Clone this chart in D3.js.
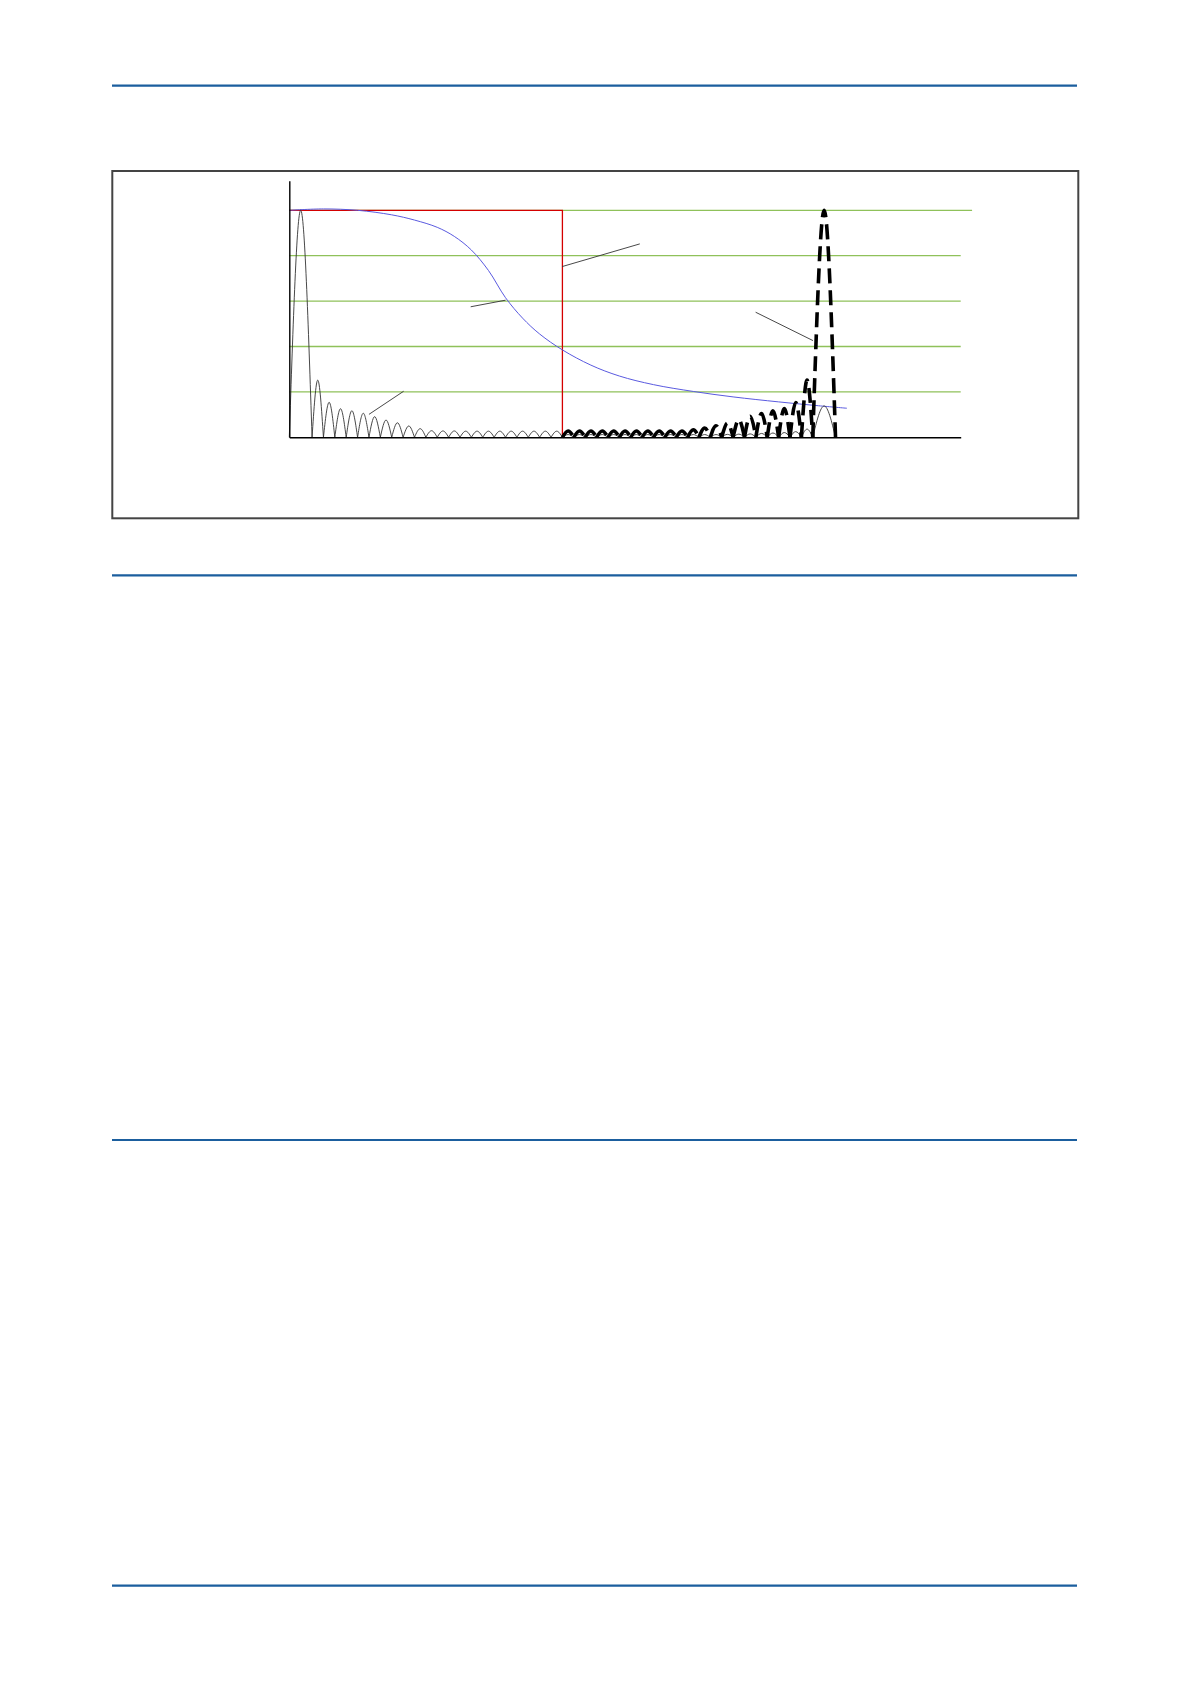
<!DOCTYPE html>
<html><head><meta charset="utf-8">
<script src="https://cdn.jsdelivr.net/npm/d3@7"></script>
<style>html,body{margin:0;padding:0;background:#fff}</style>
</head><body><svg id="c" width="1191" height="1684"></svg>
<script>
// ---- data (x in frequency bins, y as relative gain) ----
const gridLevels = [0.2, 0.4, 0.6, 0.8, 1.0];
const idealCutoff = 23;          // brick-wall filter edge (Nyquist bin)
const idealGain = 1.0;
const filterK    = [-1, 2, 5, 8, 10, 12, 13.5, 15, 16.5, 18, 19.5, 21, 23, 25.5, 28, 31, 34.5, 38, 42, 45.5, 48];
const filterGain = [1.0, 1.006, 1.0, 0.98, 0.957, 0.925, 0.885, 0.825, 0.735, 0.615, 0.525, 0.455, 0.385, 0.318, 0.27, 0.232, 0.202, 0.178, 0.156, 0.139, 0.128];
// main lobes: [centre bin, peak gain]
const responseMainLobes = [[0, 1.0], [46, 0.138]];
const aliasMainLobes    = [[46, 1.0]];
// side lobes of the filtered response, one per bin starting at bin 1
const responseSideLobes = [0.252, 0.154, 0.126, 0.117, 0.106, 0.091, 0.076, 0.064, 0.050, 0.038, 0.029,
  0.028, 0.028, 0.027, 0.027, 0.027, 0.027, 0.027, 0.027, 0.027, 0.027, 0.027,
  0.012, 0.012, 0.012, 0.012, 0.012, 0.012, 0.012, 0.012, 0.012, 0.012, 0.012, 0.012, 0.012, 0.012,
  0.013, 0.014, 0.015, 0.017, 0.019, 0.021, 0.025, 0.036];
const responseSideStart = 1;
// side lobes of the alias (image) response, starting at the cutoff bin
const aliasSideLobes = [0.028, 0.028, 0.028, 0.028, 0.028, 0.028, 0.028, 0.028, 0.028, 0.028, 0.028,
  0.033, 0.041, 0.051, 0.063, 0.078, 0.093, 0.105, 0.117, 0.127, 0.153, 0.252];
const aliasSideStart = 23;
// callout leader lines: [[bin, gain], [bin, gain]]
const leaders = [
  [[22.97, 0.752], [29.8, 0.852]],
  [[14.94, 0.575], [18.0, 0.604]],
  [[6.0, 0.101], [9.05, 0.203]],
  [[39.98, 0.551], [45.02, 0.426]]
];
const xDomain = [-1, 58];
const yAxisTop = 1.13;

// ---- drawing ----
const svg = d3.select('#c');
svg.append('rect').attr('width', 1191).attr('height', 1684).attr('fill', '#fff');

// page rules
[85.7, 575.3, 1140, 1585.7].forEach(yy => {
  svg.append('line').attr('x1', 112).attr('x2', 1077).attr('y1', yy).attr('y2', yy)
    .attr('stroke', '#1b5e9e').attr('stroke-width', 2.2);
});
// figure frame
svg.append('rect').attr('x', 112.3).attr('y', 171).attr('width', 966).attr('height', 347.3)
  .attr('fill', 'none').attr('stroke', '#444').attr('stroke-width', 2);

const x = d3.scaleLinear().domain(xDomain).range([289.3, 960.7]);
const y = d3.scaleLinear().domain([0, 1]).range([437.3, 210.3]);
const g = svg.append('g');

// grid
g.selectAll('line.grid').data(gridLevels).enter().append('line').attr('class', 'grid')
  .attr('x1', x(xDomain[0])).attr('x2', (d, i) => x(i === gridLevels.length - 1 ? xDomain[1] + 1 : xDomain[1]))
  .attr('y1', d => y(d)).attr('y2', d => y(d))
  .attr('stroke', '#8fc15a').attr('stroke-width', 1.3);

// ideal filter
const lin = d3.line().x(d => x(d[0])).y(d => y(d[1]));
g.append('path').attr('d', lin([[xDomain[0], idealGain], [idealCutoff, idealGain], [idealCutoff, 0]]))
  .attr('fill', 'none').attr('stroke', '#d40000').attr('stroke-width', 1.3);

// real filter
const filterPts = filterK.map((k, i) => [k, filterGain[i]]);
g.append('path').attr('d', d3.line().x(d => x(d[0])).y(d => y(d[1])).curve(d3.curveCatmullRom.alpha(0.5))(filterPts))
  .attr('fill', 'none').attr('stroke', '#5a5ae0').attr('stroke-width', 1);

// lobes
const lobeLine = d3.line().x(d => x(d[0])).y(d => y(d[1])).curve(d3.curveNatural);
function lobes(main, side, start) {
  const out = main.map(([c, h]) => [c - 1, c + 1, h]);
  side.forEach((h, i) => out.push([start + i, start + i + 1, h]));
  return out.map(([a, b, h]) => [[a, 0], [(a + b) / 2, h], [b, 0]]);
}
g.selectAll('path.resp').data(lobes(responseMainLobes, responseSideLobes, responseSideStart))
  .enter().append('path').attr('class', 'resp').attr('d', lobeLine)
  .attr('fill', 'none').attr('stroke', '#333').attr('stroke-width', 0.9);
g.selectAll('path.alias').data(lobes(aliasMainLobes, aliasSideLobes, aliasSideStart))
  .enter().append('path').attr('class', 'alias').attr('d', lobeLine)
  .attr('fill', 'none').attr('stroke', '#000').attr('stroke-width', 3.6)
  .attr('stroke-dasharray', '15,7');

// axes
const yAx = d3.scaleLinear().domain([0, yAxisTop]).range([y(0), y(yAxisTop)]);
g.append('g').attr('transform', `translate(0,${y(0)})`)
  .call(d3.axisBottom(x).tickValues([]).tickSizeOuter(0))
  .select('.domain').attr('stroke', '#000').attr('stroke-width', 1.4);
g.append('g').attr('transform', `translate(${x(xDomain[0])},0)`)
  .call(d3.axisLeft(yAx).tickValues([]).tickSizeOuter(0))
  .select('.domain').attr('stroke', '#000').attr('stroke-width', 1.4);

// leaders
g.selectAll('path.lead').data(leaders).enter().append('path').attr('class', 'lead')
  .attr('d', lin).attr('fill', 'none').attr('stroke', '#333').attr('stroke-width', 0.9);
</script></body></html>
